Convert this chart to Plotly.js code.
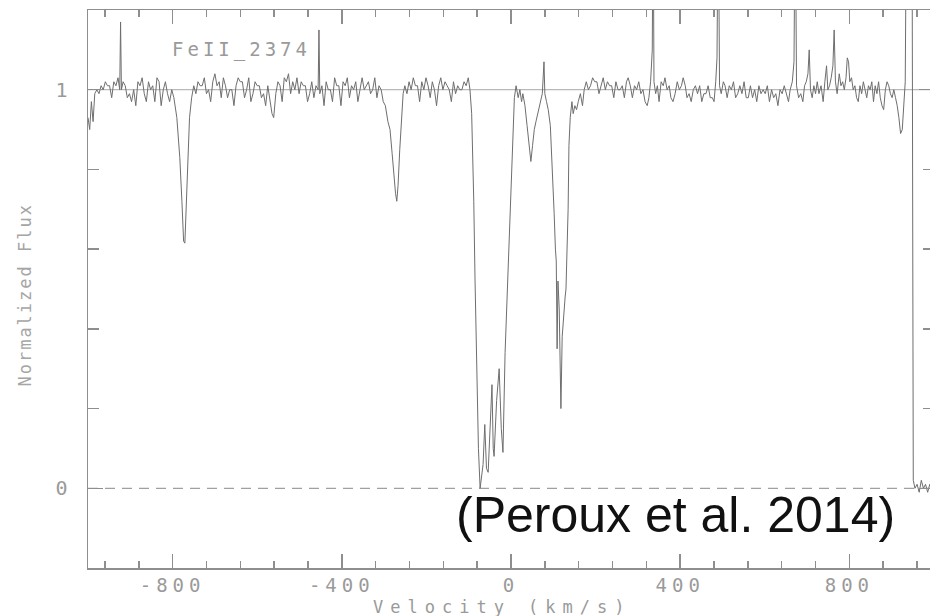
<!DOCTYPE html>
<html><head><meta charset="utf-8">
<script src="https://cdn.plot.ly/plotly-3.0.1.min.js"></script>
<style>
html,body{margin:0;padding:0;overflow:hidden;background:#fff;}
#chart{width:934px;height:616px;}
.xtick text{letter-spacing:5px;}
</style></head><body><div id="chart"></div>
<script>
// Velocity (km/s) and normalized flux
const velocity = [
 -1000,-996,-992,-988,-984,-979,-974,-969,-964,-959,
 -954,-949,-944,-939,-934,-929,-925,-923,-921,-917,
 -912,-907,-902,-897,-892,-887,-882,-877,-872,-867,
 -862,-857,-852,-847,-842,-837,-832,-827,-822,-817,
 -812,-807,-802,-797,-790,-783,-778,-774,-771,-768,
 -764,-760,-755,-750,-745,-740,-735,-730,-725,-720,
 -715,-710,-705,-700,-695,-690,-685,-680,-675,-670,
 -665,-660,-655,-650,-645,-640,-635,-630,-625,-620,
 -615,-610,-605,-600,-595,-590,-585,-580,-575,-570,
 -565,-561,-556,-551,-546,-541,-536,-531,-526,-521,
 -516,-511,-506,-501,-496,-491,-486,-481,-476,-471,
 -466,-461,-456,-454,-452,-447,-442,-437,-432,-427,
 -422,-417,-412,-407,-402,-397,-392,-387,-382,-377,
 -372,-367,-362,-357,-352,-347,-342,-337,-332,-327,
 -322,-317,-312,-307,-302,-297,-291,-286,-281,-277,
 -273,-270,-267,-263,-259,-255,-251,-246,-241,-236,
 -231,-226,-221,-216,-211,-206,-201,-196,-191,-186,
 -181,-176,-171,-166,-161,-156,-151,-146,-141,-136,
 -131,-126,-121,-116,-111,-106,-101,-97,-93,-90,
 -88,-85,-82,-80,-77,-73,-69,-66,-62,-58,
 -54,-50,-45,-42,-40,-34,-28,-23,-19,-14,
 -7,0,5,8,12,17,21,25,28,33,
 38,43,47,51,55,59,63,66,70,74,
 78,80,84,88,93,98,102,105,107,109,
 111,114,116,118,121,125,128,130,133,135,
 137,140,144,147,151,155,159,164,169,173,
 178,183,188,193,198,203,208,213,218,223,
 228,233,238,243,248,253,258,263,268,273,
 277,282,287,292,297,302,307,312,317,322,
 326,330,334,336,338,342,346,350,355,360,
 364,369,374,378,383,388,393,398,403,407,
 412,416,421,426,431,436,441,446,451,456,
 461,466,471,476,480,484,487,490,493,497,
 502,506,511,516,521,526,531,536,541,546,
 551,556,561,566,571,576,581,586,591,596,
 601,606,611,616,621,626,631,636,641,646,
 651,656,660,665,669,672,675,680,685,690,
 694,698,702,705,708,712,716,720,724,728,
 733,738,742,746,749,753,757,761,764,767,
 771,776,780,784,788,792,795,798,801,805,
 809,813,817,821,825,829,833,837,841,845,
 849,853,857,861,865,869,873,877,881,885,
 889,893,897,901,905,909,913,917,921,925,
 929,932,935,948,951,955,960,965,970,975,
 980,985,990,995,1000
];
const flux = [
 0.93,0.90,0.97,0.92,0.99,1.00,0.99,1.01,1.00,1.02,
 1.01,1.01,0.98,1.02,1.01,1.03,1.00,1.17,1.00,1.02,
 1.01,0.98,0.99,0.97,1.00,0.96,1.02,1.01,1.03,0.99,
 0.97,1.02,1.00,1.01,0.97,1.03,1.02,0.96,1.00,1.02,
 0.99,0.97,1.00,0.98,0.93,0.83,0.72,0.62,0.615,0.70,
 0.84,0.93,0.98,1.01,0.99,1.02,1.01,1.01,1.03,0.99,
 1.00,0.97,1.02,1.04,1.01,1.02,0.98,1.03,1.01,0.98,
 1.00,1.00,0.96,1.01,1.03,1.02,1.02,0.98,1.00,1.03,
 0.97,0.99,1.02,1.01,1.01,0.98,0.99,0.96,1.01,0.98,
 0.94,0.93,0.99,1.02,1.01,0.97,1.03,1.02,1.04,0.99,
 1.02,1.00,1.03,0.99,1.02,1.01,1.01,0.97,0.99,1.02,
 0.98,1.01,1.00,1.15,0.99,1.01,0.96,1.02,1.00,1.00,
 0.97,1.03,1.01,1.01,0.96,1.02,1.01,1.03,0.98,1.01,
 1.00,1.02,0.97,1.00,1.03,1.00,1.01,1.02,0.99,1.00,
 1.03,0.98,1.01,1.00,0.97,0.96,0.92,0.90,0.84,0.78,
 0.74,0.72,0.76,0.85,0.93,0.99,1.01,0.99,1.02,1.00,
 1.03,1.01,1.01,0.97,1.02,1.00,1.03,1.01,0.98,1.02,
 1.00,0.96,1.01,1.03,1.00,1.02,1.01,1.00,0.97,1.02,
 0.99,1.01,1.00,1.00,1.02,1.01,1.03,1.00,0.94,0.84,
 0.72,0.52,0.35,0.24,0.10,0.00,0.03,0.06,0.16,0.05,
 0.04,0.14,0.26,0.10,0.08,0.22,0.30,0.15,0.09,0.34,
 0.54,0.77,0.91,0.98,1.01,0.98,1.00,0.97,0.99,0.96,
 0.91,0.85,0.82,0.86,0.90,0.92,0.94,0.95,0.97,0.99,
 1.07,0.99,0.97,0.95,0.91,0.80,0.69,0.60,0.57,0.35,
 0.52,0.45,0.33,0.20,0.38,0.45,0.48,0.50,0.62,0.70,
 0.86,0.93,0.97,0.94,0.96,0.95,0.97,0.99,0.96,1.00,
 1.02,1.00,1.01,1.03,1.02,1.02,0.99,1.01,1.03,1.00,
 1.02,1.01,1.01,0.98,1.02,1.00,1.00,1.01,0.98,1.02,
 1.03,1.01,0.98,1.01,1.00,1.02,0.99,1.00,0.97,0.96,
 0.98,1.02,1.10,1.50,1.02,0.99,1.01,0.97,1.02,1.01,
 1.03,1.00,1.01,0.98,0.97,0.99,1.02,1.00,1.01,1.03,
 1.01,0.98,0.99,0.97,1.00,1.01,0.99,1.01,0.97,0.99,
 0.99,1.01,0.98,0.98,0.97,1.02,1.08,1.50,1.01,0.99,
 1.02,1.01,0.98,1.01,1.00,1.02,0.98,0.99,1.01,0.99,
 1.02,0.98,0.98,1.01,0.98,1.00,0.97,1.01,0.99,1.00,
 0.99,1.01,0.97,1.00,0.98,0.99,0.96,1.00,0.99,1.01,
 0.99,0.97,1.00,1.02,1.07,1.50,1.01,0.98,0.99,0.97,
 1.01,1.02,1.04,1.10,1.00,0.98,1.01,0.99,1.02,0.99,
 1.01,0.97,1.02,1.06,1.00,1.01,1.03,1.06,1.15,1.02,
 0.99,1.04,1.01,1.02,1.00,1.03,1.08,1.07,1.02,1.03,
 1.00,1.01,0.98,0.97,1.01,0.99,1.02,1.00,0.98,1.01,
 1.00,1.02,0.97,1.01,0.99,1.02,0.98,0.96,0.95,1.00,
 1.02,1.01,0.99,0.98,1.00,0.98,0.96,0.93,0.89,0.90,
 0.97,1.02,1.50,1.50,0.02,0.00,0.01,-0.01,0.02,0.00,
 0.01,-0.01,0.01,0.00,0.01
];
const xTickVals = [-800,-400,0,400,800];
const xTickText = ['-800','-400','0','400','800'];
const yTickVals = [0,1];
const yTickText = ['0','1'];
const lineLabel = 'FeII_2374';
const xTitle = 'Velocity (km/s)';
const yTitle = 'Normalized Flux';
const citation = '(Peroux et al. 2014)';

const axisGray = '#8e8e8e';
const textGray = '#9a9a9a';
const mono = 'DejaVu Sans Mono, monospace';

const trace = {
  x: velocity, y: flux, type: 'scatter', mode: 'lines',
  line: {color: '#6e6e6e', width: 1}, hoverinfo: 'skip'
};

const layout = {
  width: 934, height: 616,
  margin: {l: 88, r: 0, t: 10, b: 48},
  paper_bgcolor: '#fff', plot_bgcolor: '#fff',
  showlegend: false,
  xaxis: {
    range: [-1000, 1000], showgrid: false, zeroline: false,
    showline: true, linecolor: axisGray, linewidth: 1.5, mirror: 'ticks',
    ticks: 'inside', ticklen: 14, tickwidth: 1.5, tickcolor: axisGray,
    tickmode: 'array', tickvals: xTickVals, ticktext: xTickText,
    tickfont: {family: mono, size: 19, color: textGray},
    ticklabelstandoff: 0,
    minor: {tickmode: 'linear', tick0: 0, dtick: 80, ticks: 'inside', ticklen: 7, tickwidth: 1.5, tickcolor: axisGray, showgrid: false}
  },
  yaxis: {
    range: [-0.2, 1.2], showgrid: false, zeroline: false,
    showline: true, linecolor: axisGray, linewidth: 1.5, mirror: 'ticks',
    ticks: 'inside', ticklen: 15, tickwidth: 1.5, tickcolor: axisGray,
    tickmode: 'array', tickvals: yTickVals, ticktext: yTickText,
    tickfont: {family: mono, size: 20, color: textGray},
    ticklabelstandoff: 15,
    minor: {tickmode: 'linear', tick0: 0, dtick: 0.2, ticks: 'inside', ticklen: 11, tickwidth: 1.5, tickcolor: axisGray, showgrid: false}
  },
  shapes: [
    {type: 'line', xref: 'paper', x0: 0, x1: 1, yref: 'y', y0: 1, y1: 1, line: {color: '#a8a8a8', width: 1}, layer: 'below'},
    {type: 'line', xref: 'paper', x0: 0, x1: 1, yref: 'y', y0: 0, y1: 0, line: {color: '#a0a0a0', width: 1.2, dash: '10px,7px'}, layer: 'below'}
  ],
  annotations: [
    {xref: 'x', yref: 'y', x: -806, y: 1.10, xanchor: 'left', yanchor: 'middle', showarrow: false,
     text: '<span style="letter-spacing:4px">' + lineLabel + '</span>',
     font: {family: mono, size: 19, color: textGray}},
    {xref: 'x', yref: 'paper', x: -21, y: -0.069, xanchor: 'center', yanchor: 'middle', showarrow: false,
     text: '<span style="letter-spacing:7px">' + xTitle + '</span>',
     font: {family: mono, size: 17, color: textGray}},
    {xref: 'paper', yref: 'paper', x: -0.0745, y: 0.49, xanchor: 'center', yanchor: 'middle', showarrow: false,
     textangle: -90,
     text: '<span style="letter-spacing:2px">' + yTitle + '</span>',
     font: {family: mono, size: 17, color: '#a5a5a5'}},
    {xref: 'x', yref: 'y', x: 388, y: -0.068, xanchor: 'center', yanchor: 'middle', showarrow: false,
     text: citation,
     font: {family: 'Liberation Sans, Arial, sans-serif', size: 50, color: '#111'}}
  ]
};

Plotly.newPlot('chart', [trace], layout, {displayModeBar: false, staticPlot: true});
</script></body></html>
